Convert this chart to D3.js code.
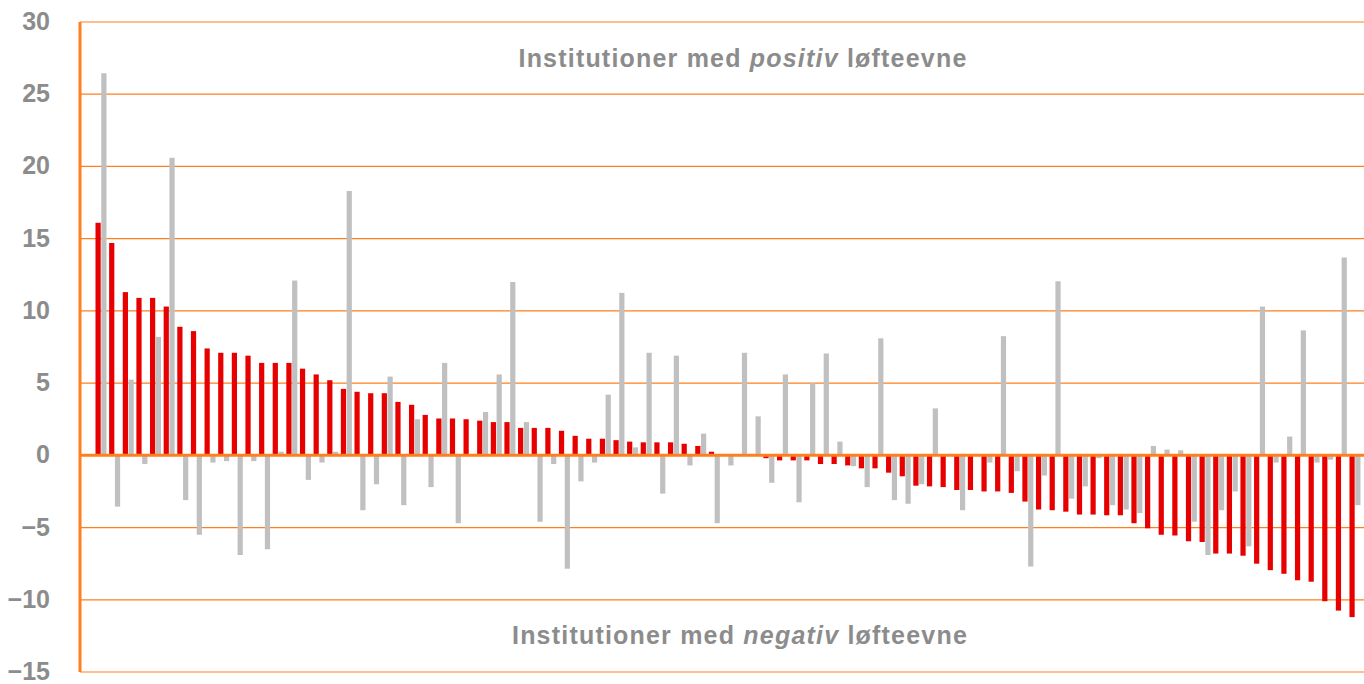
<!DOCTYPE html>
<html>
<head>
<meta charset="utf-8">
<script src="https://cdn.jsdelivr.net/npm/d3@7"></script>
<style>
  body { margin: 0; background: #fff; }
  .y.axis path, .y.axis line { display: none; }
  .y.axis text { fill: #8c8c8c; font: bold 25px "Liberation Sans", Arial, sans-serif; }
  .note { fill: #8c8c8c; font: bold 25px "Liberation Sans", Arial, sans-serif; letter-spacing: 1.2px; }
</style>
</head>
<body>
<script>
// værdier
const institutioner = d3.range(1, 94).map(i => "Inst " + i);

const loefteevne = [16.1, 14.7, 11.3, 10.9, 10.9, 10.3, 8.9, 8.6, 7.4, 7.1,
  7.1, 6.9, 6.4, 6.4, 6.4, 6.0, 5.6, 5.2, 4.6, 4.4,
  4.3, 4.3, 3.7, 3.5, 2.8, 2.55, 2.55, 2.5, 2.4, 2.3,
  2.3, 1.9, 1.9, 1.9, 1.7, 1.35, 1.15, 1.15, 1.05, 0.95,
  0.9, 0.9, 0.9, 0.8, 0.65, 0.25, 0, 0, 0, -0.2,
  -0.35, -0.35, -0.35, -0.6, -0.6, -0.7, -0.9, -0.9, -1.2, -1.45,
  -2.1, -2.15, -2.2, -2.4, -2.4, -2.5, -2.5, -2.6, -3.2, -3.75,
  -3.8, -3.9, -4.1, -4.1, -4.15, -4.15, -4.7, -5.05, -5.5, -5.55,
  -5.95, -6.0, -6.8, -6.8, -6.95, -7.5, -7.95, -8.2, -8.65, -8.75,
  -10.1, -10.75, -11.2];

const sammenligning = [26.45, -3.55, 5.24, -0.6, 8.2, 20.6, -3.1, -5.5, -0.5, -0.4,
  -6.9, -0.4, -6.5, 0.25, 12.1, -1.7, -0.5, 0.25, 18.3, -3.8,
  -2.0, 5.45, -3.45, 2.5, -2.2, 6.4, -4.7, 0, 3.0, 5.6,
  12.0, 2.3, -4.6, -0.6, -7.85, -1.8, -0.5, 4.2, 11.25, 0.55,
  7.1, -2.65, 6.9, -0.7, 1.5, -4.7, -0.7, 7.1, 2.7, -1.9,
  5.6, -3.25, 5.0, 7.05, 0.95, -0.75, -2.2, 8.1, -3.1, -3.35,
  -2.0, 3.25, 0, -3.8, 0, -0.5, 8.25, -1.1, -7.7, -1.4,
  12.05, -3.0, -2.15, -0.2, -3.45, -3.75, -4.0, 0.65, 0.4, 0.35,
  -4.6, -6.9, -3.8, -2.5, -6.3, 10.3, -0.5, 1.3, 8.65, -0.5,
  -0.3, 13.7, -3.45];

const yTicks = [-15, -10, -5, 0, 5, 10, 15, 20, 25, 30];

const width = 1364, height = 684;
const plot = {left: 80, right: 1364, top: 22, bottom: 672};
const orange = "#ff7f1e";

const data = institutioner.map((d, i) => ({inst: d, a: loefteevne[i], b: sammenligning[i]}));

const xScale = d3.scaleBand()
  .domain(institutioner)
  .range([95, 1362.6]);

const xSub = d3.scaleBand()
  .domain(["a", "b"])
  .range([0.5, 11.5])
  .paddingInner(0.1);

const yScale = d3.scaleLinear()
  .domain([-15, 30])
  .range([plot.bottom, plot.top]);

const svg = d3.select("body").append("svg")
  .attr("width", width)
  .attr("height", height);

// gitterlinjer
svg.append("g")
  .attr("class", "grid")
  .selectAll("line")
  .data(yTicks.filter(d => d !== 0))
  .enter().append("line")
  .attr("x1", plot.left).attr("x2", plot.right)
  .attr("y1", d => yScale(d))
  .attr("y2", d => yScale(d))
  .attr("stroke", orange)
  .attr("stroke-width", 1.2);

// søjler
const bars = svg.append("g");
bars.selectAll(".bar-a")
  .data(data)
  .enter().append("rect")
  .attr("class", "bar-a")
  .attr("x", d => xScale(d.inst) + xSub("a"))
  .attr("width", xSub.bandwidth())
  .attr("y", d => yScale(Math.max(0, d.a)))
  .attr("height", d => Math.abs(yScale(d.a) - yScale(0)))
  .attr("fill", "#e60000");

bars.selectAll(".bar-b")
  .data(data)
  .enter().append("rect")
  .attr("class", "bar-b")
  .attr("x", d => xScale(d.inst) + xSub("b"))
  .attr("width", xSub.bandwidth())
  .attr("y", d => yScale(Math.max(0, d.b)))
  .attr("height", d => Math.abs(yScale(d.b) - yScale(0)))
  .attr("fill", "#c0c0c0");

// nul-linje og y-akse
svg.append("line")
  .attr("x1", plot.left).attr("x2", plot.right)
  .attr("y1", yScale(0)).attr("y2", yScale(0))
  .attr("stroke", orange).attr("stroke-width", 3);

svg.append("line")
  .attr("x1", plot.left).attr("x2", plot.left)
  .attr("y1", plot.top).attr("y2", plot.bottom)
  .attr("stroke", orange).attr("stroke-width", 3);

const yAxis = d3.axisLeft(yScale).tickValues(yTicks).tickSize(0).tickPadding(30);
svg.append("g")
  .attr("class", "y axis")
  .attr("transform", "translate(" + plot.left + ",0)")
  .call(yAxis)
  .selectAll("text").attr("dy", "0.3em");

// tekster
const t1 = svg.append("text").attr("class", "note")
  .attr("x", 743).attr("y", 67).attr("text-anchor", "middle");
t1.append("tspan").text("Institutioner med ");
t1.append("tspan").attr("font-style", "italic").text("positiv");
t1.append("tspan").text(" løfteevne");

const t2 = svg.append("text").attr("class", "note")
  .attr("x", 740).attr("y", 644).attr("text-anchor", "middle");
t2.append("tspan").text("Institutioner med ");
t2.append("tspan").attr("font-style", "italic").text("negativ");
t2.append("tspan").text(" løfteevne");
</script>
</body>
</html>
